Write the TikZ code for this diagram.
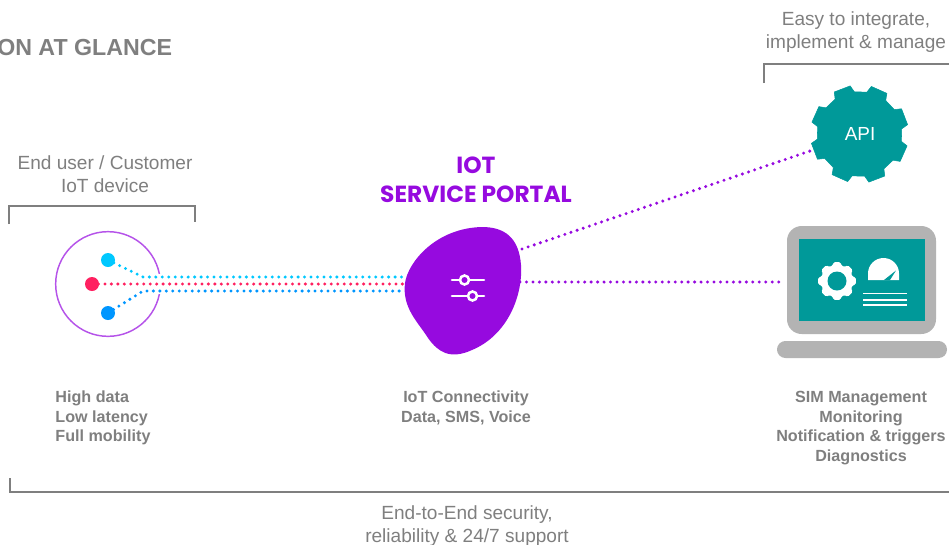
\documentclass[tikz,border=0pt]{standalone}
\usepackage{fontspec}
\setmainfont{Liberation Sans}
\newfontfamily\popp{Poppins}
\definecolor{txtg}{HTML}{7F7F7F}
\definecolor{brk}{HTML}{7F7F7F}
\definecolor{purp}{HTML}{960ADF}
\definecolor{teal}{HTML}{009999}
\definecolor{lapg}{HTML}{B3B3B3}
\definecolor{cy}{HTML}{00C8FF}
\definecolor{bl}{HTML}{0096FF}
\definecolor{rd}{HTML}{FF2060}
\tikzset{
 x=0.75pt,y=-0.75pt,
 lbl/.style={font=\fontsize{14.3pt}{17.25pt}\selectfont,text=txtg,align=center,inner sep=0},
 lblb/.style={font=\fontsize{12.1pt}{14.8pt}\selectfont\bfseries,text=txtg,align=center,inner sep=0},
 brack/.style={draw=brk,line width=1.3pt},
 dots/.style={line width=2.5pt,line cap=round,dash pattern=on 0pt off 4.85pt},
 dot/.style={circle,fill=#1,inner sep=0,minimum size=10.5pt},
}
\begin{document}
\begin{tikzpicture}
\useasboundingbox (0,0) rectangle (949,544);
\clip (0,0) rectangle (949,544);
% title
\node[anchor=west,inner sep=0,font=\fontsize{17.4pt}{20pt}\selectfont\bfseries,text=txtg] (title) at (-3,48) {ON AT GLANCE};
% labels
\node[lbl] (eu) at (105,174.5) {End user / Customer\\IoT device};
\node[lbl] (easy) at (856,32) {Easy to integrate,\\implement \& manage};
\node[lbl] (e2e) at (467,526) {End-to-End security,\\reliability \& 24/7 support};
\node[lblb,align=left] (hd) at (103,418) {High data\\Low latency\\Full mobility};
\node[lblb] (iotc) at (466,408) {IoT Connectivity\\Data, SMS, Voice};
\node[lblb] (sim) at (861,428) {SIM Management\\Monitoring\\Notification \& triggers\\Diagnostics};
\node[inner sep=0,align=center,text=purp,font=\popp\fontsize{17.5pt}{22pt}\selectfont\bfseries] (portal) at (476,180) {IOT\\SERVICE PORTAL};
% brackets
\draw[brack] (9,224) -- (9,206) -- (195,206) -- (195,222);
\draw[brack] (764,83) -- (764,64) -- (949,64);
\draw[brack] (10,478) -- (10,492) -- (949,492);
% device circle
\node[circle,draw=purp!70,line width=1.1pt,minimum size=78.5pt,inner sep=0] (dev) at (108,284) {};
\path[fill=white] (155,274) rectangle (163,294);
% connector anchors
\coordinate (cyan1) at (108,260);
\coordinate (blue1) at (108,313);
\coordinate (red1) at (92,284);
\coordinate (cyanj) at (143,277);
\coordinate (bluej) at (143,291);
% blob
\path[fill=purp] (405,283)
 .. controls (408,262) and (436,228) .. (482,227)
 .. controls (505,227) and (519,238) .. (521,265)
 .. controls (523,295) and (508,335) .. (472,350)
 .. controls (450,360) and (438,352) .. (428,338)
 .. controls (418,322) and (402,308) .. (405,283) -- cycle;
\coordinate (blobl1) at (405,277);
\coordinate (blobl2) at (405,284);
\coordinate (blobl3) at (405,291);
\coordinate (blobr1) at (522,249);
\coordinate (blobr2) at (520,282);
% connectors
\draw[dots,color=cy] (cyan1) -- (cyanj) -- (blobl1);
\draw[dots,color=rd] (red1) -- (blobl2);
\draw[dots,color=bl] (blue1) -- (bluej) -- (blobl3);
\node[dot=cy] at (cyan1) {};
\node[dot=bl] at (blue1) {};
\node[dot=rd] at (red1) {};
% sliders
\draw[white,line width=1.9pt,line cap=round] (452,280) -- (484,280) (452,296) -- (484,296);
\draw[white,fill=purp,line width=1.9pt] (464.5,280) circle[radius=4.5] (472.5,296) circle[radius=4.5];
% gear
\def\gearcx{859.5}\def\gearcy{134}
\path[fill=teal,draw=teal,line join=round]
 \foreach \a [count=\i] in {21,66,111,156,201,246,291,336}{
   \ifnum\i=1 ({\gearcx+42.5*cos(\a-14)},{\gearcy-42.5*sin(\a-14)}) \else -- ({\gearcx+42.5*cos(\a-14)},{\gearcy-42.5*sin(\a-14)}) \fi
   -- ({\gearcx+49*cos(\a-10)},{\gearcy-49*sin(\a-10)})
   -- ({\gearcx+49*cos(\a+10)},{\gearcy-49*sin(\a+10)})
   -- ({\gearcx+42.5*cos(\a+14)},{\gearcy-42.5*sin(\a+14)})
 } -- cycle;
\node[inner sep=0,text=white,font=\fontsize{14.2pt}{16pt}\selectfont] (api) at (860,134) {API};
\coordinate (gearl) at (810,151);
\draw[dots,color=purp] (blobr1) -- (gearl);
% laptop
\path[fill=lapg,rounded corners=11pt] (787,226) rectangle (936,334);
\path[fill=lapg,rounded corners=6.3pt] (777,341) rectangle (947,358);
\path[fill=teal] (799,239) rectangle (925,321);
\coordinate (lapl) at (785,282);
\draw[dots,color=purp] (blobr2) -- (lapl);
% small gear
\def\gearcx{837}\def\gearcy{281}
\path[fill=white,draw=white,line width=1pt,line join=round,rounded corners=1pt]
 \foreach \a [count=\i] in {0,45,90,135,180,225,270,315}{
   \ifnum\i=1 ({\gearcx+15.5*cos(\a-14)},{\gearcy-15.5*sin(\a-14)}) \else -- ({\gearcx+15.5*cos(\a-14)},{\gearcy-15.5*sin(\a-14)}) \fi
   -- ({\gearcx+18.5*cos(\a-10)},{\gearcy-18.5*sin(\a-10)})
   -- ({\gearcx+18.5*cos(\a+10)},{\gearcy-18.5*sin(\a+10)})
   -- ({\gearcx+15.5*cos(\a+14)},{\gearcy-15.5*sin(\a+14)})
 } -- cycle;
\path[fill=teal] (837,281) circle[radius=9.5];
% meter
\path[fill=white] (868,280) -- (868,273.5) arc[start angle=180,end angle=360,radius=15.5] -- (899,280) -- cycle;
\path[fill=teal] (884,280) -- (896,270.5) -- (890,280) -- cycle;
\draw[white,line width=1.4pt] (863,293.5) -- (907,293.5);
\draw[white,line width=1.4pt] (863,300) -- (907,300);
\draw[white,line width=1.1pt] (863,305) -- (907,305);
\end{tikzpicture}
\end{document}
